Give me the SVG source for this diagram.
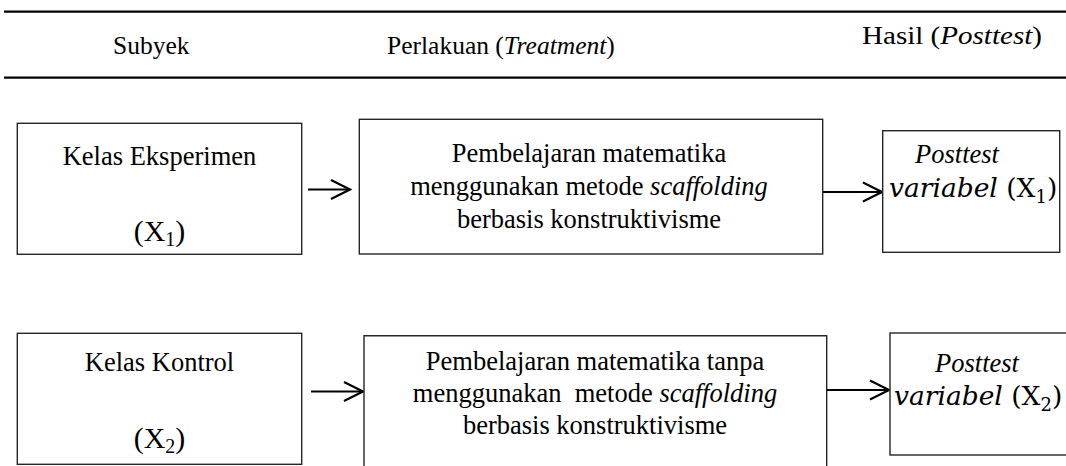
<svg xmlns="http://www.w3.org/2000/svg" width="1066" height="466" viewBox="0 0 1066 466">
<defs>
<style>
.t{font-family:"Liberation Serif","Times New Roman",serif;font-size:26.5px;fill:#000}
.h{font-family:"Liberation Serif","Times New Roman",serif;font-size:25.5px;fill:#000}
.m{font-family:"DejaVu Serif",serif;font-size:26.5px;fill:#000}
.x{font-family:"Liberation Serif","Times New Roman",serif;font-size:30px;fill:#000}
.i{font-style:italic}
.box{fill:#fff;stroke:#262626;stroke-width:1.4}
.rule{stroke:#000;stroke-width:2.2}
.arr{stroke:#000;stroke-width:2.2;fill:none}
</style>
<marker id="ah" markerUnits="userSpaceOnUse" markerWidth="24" markerHeight="24" refX="20" refY="11" orient="auto" overflow="visible"><path d="M1,1.5 L20,11 L1,20.5" fill="none" stroke="#000" stroke-width="2.2"/></marker>
</defs>
<rect width="1066" height="466" fill="#fff"/>
<g id="header">
<line class="rule" x1="4" y1="11.7" x2="1066" y2="11.7"/>
<line class="rule" x1="4" y1="77.7" x2="1066" y2="77.7"/>
<text class="h" x="113" y="54">Subyek</text>
<text class="h" x="387" y="54">Perlakuan (<tspan class="i">Treatment</tspan>)</text>
<text class="h" x="862" y="44" textLength="180" lengthAdjust="spacingAndGlyphs">Hasil (<tspan class="i">Posttest</tspan>)</text>
</g>
<g id="connectors">
<path class="arr" d="M308,189.5 L350,189.5" marker-end="url(#ah)"/>
<path class="arr" d="M823,192 L882,192" marker-end="url(#ah)"/>
<path class="arr" d="M311,391.5 L363,391.5" marker-end="url(#ah)"/>
<path class="arr" d="M827,390 L889,390" marker-end="url(#ah)"/>
</g>
<g id="kelas-eksperimen">
<rect class="box" x="17.3" y="123.3" width="284.4" height="131"/>
<text class="t" x="159.5" y="165" text-anchor="middle">Kelas Eksperimen</text>
<text class="x" x="159.5" y="241" text-anchor="middle">(X<tspan font-size="20" dy="5">1</tspan><tspan dy="-5">)</tspan></text>
</g>
<g id="perlakuan-eksperimen">
<rect class="box" x="359.3" y="119.3" width="463.4" height="134.7"/>
<text class="t" x="589" y="162" text-anchor="middle">Pembelajaran matematika</text>
<text class="t" x="589" y="195" text-anchor="middle">menggunakan metode <tspan class="i">scaffolding</tspan></text>
<text class="t" x="589" y="228" text-anchor="middle">berbasis konstruktivisme</text>
</g>
<g id="hasil-eksperimen">
<rect class="box" x="882.7" y="130.7" width="177" height="121.6"/>
<text class="t i" x="957" y="163" text-anchor="middle">Posttest</text>
<text class="m" x="889" y="197"><tspan class="i">variabel</tspan> (X<tspan font-size="18" dy="6">1</tspan><tspan dy="-6">)</tspan></text>
</g>
<g id="kelas-kontrol">
<rect class="box" x="17.3" y="333.3" width="284.4" height="131"/>
<text class="t" x="159.5" y="371" text-anchor="middle">Kelas Kontrol</text>
<text class="x" x="159.5" y="448" text-anchor="middle">(X<tspan font-size="20" dy="5">2</tspan><tspan dy="-5">)</tspan></text>
</g>
<g id="perlakuan-kontrol">
<path class="box" d="M364,470 V335.7 H826.7 V470"/>
<text class="t" x="595" y="370" text-anchor="middle">Pembelajaran matematika tanpa</text>
<text class="t" x="595" y="402" text-anchor="middle" xml:space="preserve">menggunakan  metode <tspan class="i">scaffolding</tspan></text>
<text class="t" x="595" y="434" text-anchor="middle">berbasis konstruktivisme</text>
</g>
<g id="hasil-kontrol">
<rect class="box" x="890" y="333" width="190" height="122"/>
<text class="t i" x="977" y="372" text-anchor="middle">Posttest</text>
<text class="m" x="894" y="405"><tspan class="i">variabel</tspan> (X<tspan font-size="18" dy="6">2</tspan><tspan dy="-6">)</tspan></text>
</g>
</svg>
